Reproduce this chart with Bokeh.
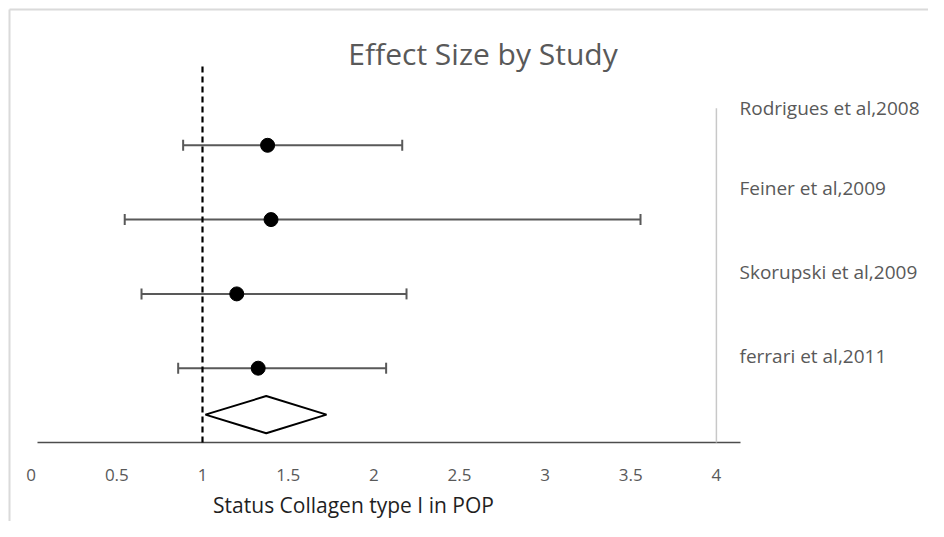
from bokeh.plotting import figure
from bokeh.models import ColumnDataSource, Whisker, TeeHead, Range1d
from bokeh.core.properties import value
from bokeh.embed import file_html
from bokeh.resources import INLINE

# ---- data ----
studies = ["Rodrigues et al,2008", "Feiner et al,2009", "Skorupski et al,2009", "ferrari et al,2011"]
effect = [1.38, 1.40, 1.20, 1.325]
lower = [0.887, 0.546, 0.644, 0.858]
upper = [2.166, 3.557, 2.191, 2.072]
rows = [4, 3, 2, 1]
label_rows = [4.5, 3.43, 2.29, 1.16]
pooled_effect = 1.372
pooled_lower = 1.017
pooled_upper = 1.724
pooled_row = 0.375
ref_value = 1
x_ticks = [0, 0.5, 1, 1.5, 2, 2.5, 3, 3.5, 4]
x_tick_labels = ["0", "0.5", "1", "1.5", "2", "2.5", "3", "3.5", "4"]
title_text = "Effect Size by Study"
x_title = "Status Collagen type I in POP"

# ---- layout (pixels -> data) ----
W, H = 928, 521
PX0, PXU = 30.7, 171.3   # x pixel of value 0, px per unit
PY0, PYU = 442.0, 74.3   # y pixel of value 0, px per unit

def dx(px):
    return (px - PX0) / PXU

def dy(py):
    return (PY0 - py) / PYU

FONT = "Open Sans"
GRAY = "#595959"

p = figure(width=W, height=H, output_backend="svg", toolbar_location=None,
           x_axis_type=None, y_axis_type=None, title=None,
           x_range=Range1d(dx(0), dx(W)), y_range=Range1d(dy(H), dy(0)),
           min_border=0, min_border_left=0, min_border_right=0,
           min_border_top=0, min_border_bottom=0)
p.outline_line_color = None
p.background_fill_color = "white"
p.border_fill_color = "white"

# chart border (top and left edges)
p.segment(x0=[dx(9), dx(9)], y0=[dy(9), dy(9)], x1=[dx(W), dx(9)], y1=[dy(9), dy(H)],
          line_color="#dadada", line_width=2)

# x axis line
p.segment(x0=[dx(37)], y0=[0], x1=[dx(740)], y1=[0], line_color="#4d4d4d", line_width=1.5)

# gray vertical line at right
p.segment(x0=[x_ticks[-1]], y0=[0], x1=[x_ticks[-1]], y1=[4.5], line_color="#c8c8c8", line_width=1.5)

# reference dashed line
p.segment(x0=[ref_value], y0=[0], x1=[ref_value], y1=[5.11], line_color="black",
          line_width=2.2, line_dash="6 4")

# confidence intervals
src = ColumnDataSource(dict(study=studies, effect=effect, lower=lower, upper=upper, row=rows))
wh = Whisker(source=src, base="row", lower="lower", upper="upper", dimension="width",
             line_color=GRAY, line_width=2,
             lower_head=TeeHead(size=11, line_color=GRAY, line_width=2),
             upper_head=TeeHead(size=11, line_color=GRAY, line_width=2))
p.add_layout(wh)

p.scatter(x="effect", y="row", source=src, size=14, fill_color="black", line_color="black")

# pooled diamond
h = 0.25
p.patch(x=[pooled_lower, pooled_effect, pooled_upper, pooled_effect],
        y=[pooled_row, pooled_row + h, pooled_row, pooled_row - h],
        fill_color="white", line_color="black", line_width=2)

# study labels
p.text(x=[dx(739)] * len(studies), y=label_rows, text=studies,
       text_font=value(FONT), text_font_size="19px", text_color=GRAY,
       text_align="left", text_baseline="middle")

# tick labels
p.text(x=x_ticks, y=[dy(474)] * len(x_ticks), text=x_tick_labels,
       text_font=value(FONT), text_font_size="17px", text_color=GRAY,
       text_align="center", text_baseline="middle")

# axis title
p.text(x=[dx(353)], y=[dy(504)], text=[x_title],
       text_font=value(FONT), text_font_size="21px", text_color="#1f1f1f",
       text_align="center", text_baseline="middle")

# chart title
p.text(x=[dx(482.5)], y=[dy(53)], text=[title_text],
       text_font=value(FONT), text_font_size="30px", text_color=GRAY,
       text_align="center", text_baseline="middle")

open("out.html", "w").write(file_html(p, INLINE))
